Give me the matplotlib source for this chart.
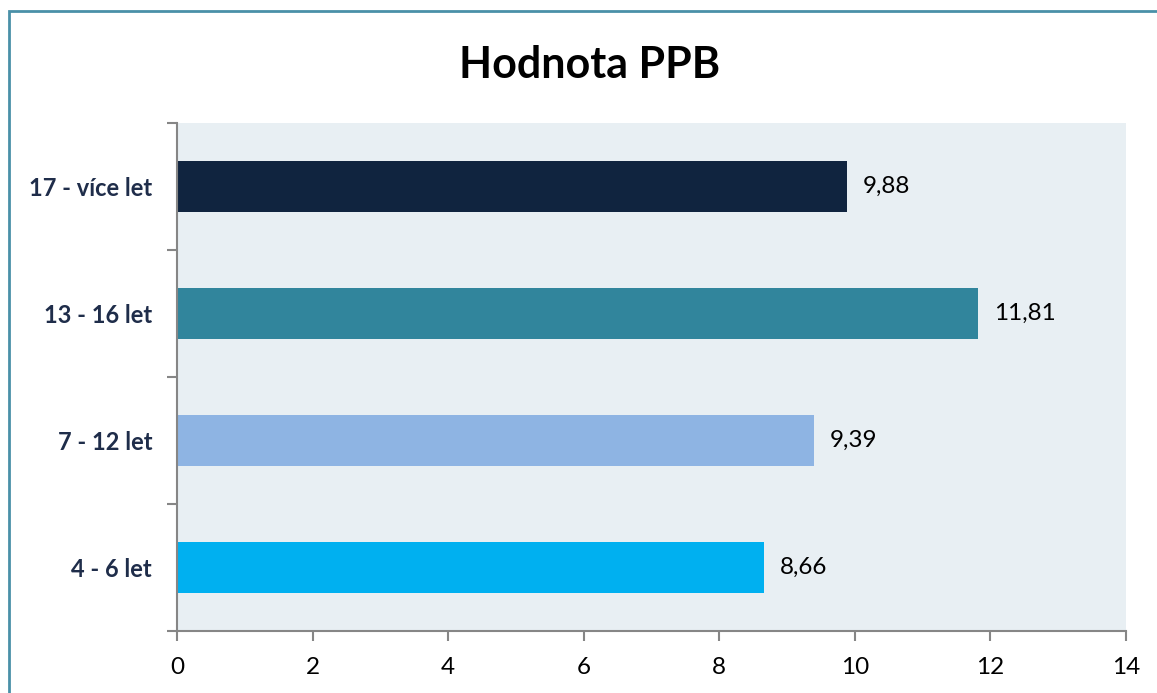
import matplotlib.pyplot as plt
from matplotlib.patches import Rectangle

# Data
kategorie = ['4 - 6 let', '7 - 12 let', '13 - 16 let', '17 - více let']
hodnoty = [8.66, 9.39, 11.81, 9.88]
popisky = ['8,66', '9,39', '11,81', '9,88']
barvy = ['#00B0F0', '#8EB4E3', '#31859C', '#10243F']

plt.rcParams['font.family'] = ['Lato', 'DejaVu Sans']

fig = plt.figure(figsize=(11.57, 6.93), dpi=100)
W, H = 1157, 693

# ramecek grafu
fig.patches.append(Rectangle((9 / W, -0.1), 1.2, 1 - 11 / H + 0.1, transform=fig.transFigure,
                             fill=False, edgecolor='#4A90A8', linewidth=2))

ax = fig.add_axes([177 / W, 1 - 631 / H, (1126 - 177) / W, (631 - 123) / H])
ax.set_facecolor('#E8EFF3')

y = range(len(kategorie))
ax.barh(y, hodnoty, height=0.4, color=barvy)
for i, (v, t) in enumerate(zip(hodnoty, popisky)):
    ax.text(v + 0.24, i, t, va='center', ha='left', fontsize=17.5, color='black')

ax.set_xlim(0, 14)
ax.set_ylim(-0.5, 3.5)
ax.set_xticks(range(0, 15, 2))
ax.tick_params(axis='x', length=7, width=1.5, color='#868686', labelsize=17.5, pad=12)

ax.set_yticks([-0.5, 0.5, 1.5, 2.5, 3.5])
ax.set_yticklabels([])
ax.tick_params(axis='y', which='major', length=7, width=1.5, color='#868686')
ax.set_yticks(list(y), minor=True)
ax.set_yticklabels(kategorie, minor=True, fontsize=17, fontweight='bold', color='#1F2D4A')
ax.tick_params(axis='y', which='minor', length=0, pad=18)

for s in ['top', 'right']:
    ax.spines[s].set_visible(False)
for s in ['left', 'bottom']:
    ax.spines[s].set_color('#868686')
    ax.spines[s].set_linewidth(1.5)

fig.text(590 / W, 1 - 65 / H, 'Hodnota PPB', ha='center', va='center',
         fontsize=31, fontweight='bold', color='black')

fig.savefig('out.png', dpi=100)
